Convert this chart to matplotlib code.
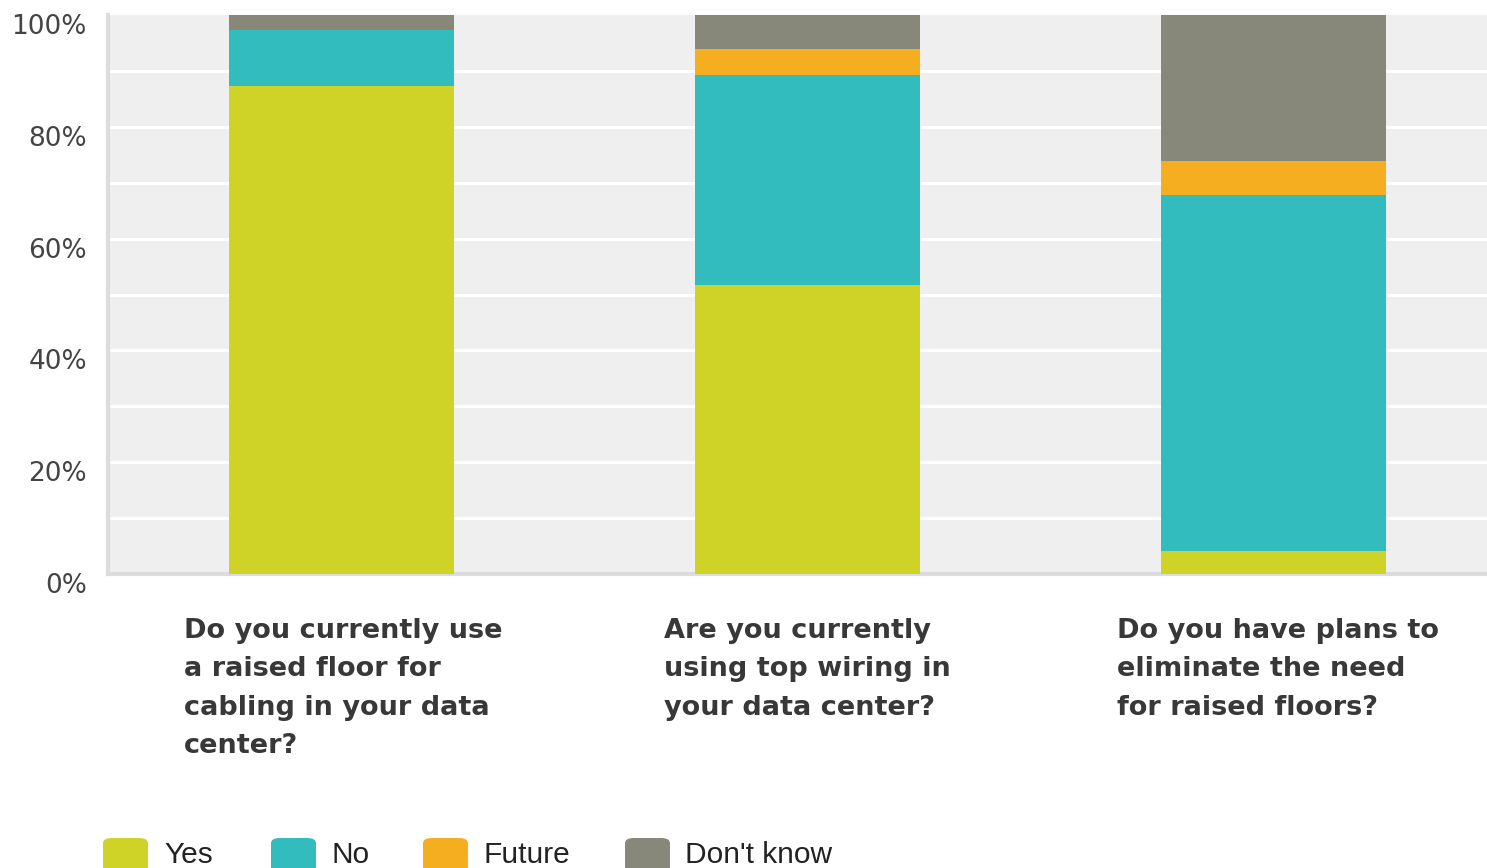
import matplotlib
matplotlib.use("Agg")
import matplotlib.pyplot as plt
from matplotlib.patches import FancyBboxPatch
import numpy as np

questions = [
    "Do you currently use\na raised floor for\ncabling in your data\ncenter?",
    "Are you currently\nusing top wiring in\nyour data center?",
    "Do you have plans to\neliminate the need\nfor raised floors?",
]
series_names = ["Yes", "No", "Future", "Don't know"]
yes = [87.3, 51.7, 4.1]
no = [10.0, 37.6, 63.7]
future = [0.0, 4.6, 6.1]
dont_know = [2.7, 6.1, 26.1]
colors = ["#cfd328", "#33bcbe", "#f5ae20", "#88887a"]
y_ticks = [0, 20, 40, 60, 80, 100]

plt.rcParams["font.family"] = ["DejaVu Sans"]

W, H = 1487, 868
fig = plt.figure(figsize=(W / 100, H / 100), dpi=100)
ax = fig.add_axes([108 / W, 1 - 574 / H, 1 - 108 / W, (574 - 15) / H])
ax.set_facecolor("#efefef")

x = np.arange(len(questions))
bottom = np.zeros(len(questions))
for vals, col in zip([yes, no, future, dont_know], colors):
    ax.bar(x, vals, bottom=bottom, width=0.481, color=col, zorder=3)
    bottom += np.array(vals)

ax.set_xlim(-0.501, 2.458)
ax.set_ylim(0, 100)

for gy in range(10, 100, 10):
    ax.axhline(gy, color="white", lw=2.2, zorder=1)

for s in ["top", "right"]:
    ax.spines[s].set_visible(False)
ax.spines["left"].set_color("#dcdcdc")
ax.spines["left"].set_linewidth(3)
ax.spines["bottom"].set_color("#dcdcdc")
ax.spines["bottom"].set_linewidth(3)

ax.set_xticks([])
ax.set_yticks([])
# y labels sit slightly below their gridlines
for t in y_ticks:
    ax.annotate(f"{t}%", xy=(0, t), xycoords=("axes fraction", "data"),
                xytext=(-21, -12), textcoords="offset pixels",
                ha="right", va="center", fontsize=19, color="#444444")

# category labels, left aligned under each bar
label_shift = [-0.338, -0.307, -0.337]
for xi, q, sh in zip(x, questions, label_shift):
    ax.annotate(q, xy=(xi + sh, 0), xycoords=("data", "axes fraction"),
                xytext=(0, -44), textcoords="offset pixels",
                ha="left", va="top", fontsize=19.5, fontweight="bold",
                color="#383838", linespacing=1.62, annotation_clip=False)

# legend along the bottom edge
legend_px = [(103, 164), (271, 332), (423, 483), (625, 685)]
for (px, tx), name, col in zip(legend_px, series_names, colors):
    patch = FancyBboxPatch((px / W, 1 - 895 / H), 45 / W, 57 / H,
                           boxstyle="round,pad=0,rounding_size=0.006",
                           transform=fig.transFigure, facecolor=col,
                           edgecolor="none", clip_on=False)
    fig.patches.append(patch)
    fig.text(tx / W, 1 - 855 / H, name, ha="left", va="center",
             fontsize=21.5, color="#222222", family="Liberation Sans")

fig.savefig("out.png", dpi=100)
